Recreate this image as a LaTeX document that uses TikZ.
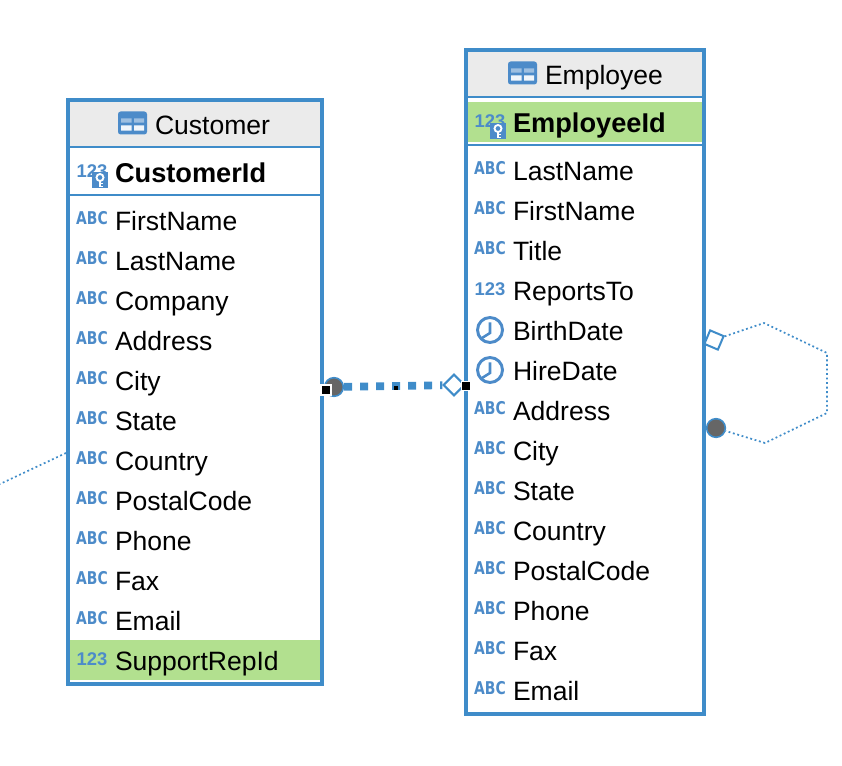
\documentclass[tikz,border=0pt]{standalone}
\usepackage{fontspec}
\setmainfont{Liberation Sans}
\newfontfamily\iconfont{DejaVu Sans}

\definecolor{tableblue}{HTML}{3F8CC9}
\definecolor{iconblue}{HTML}{4C8BC9}
\definecolor{keygreen}{HTML}{B2E08F}
\definecolor{headgray}{HTML}{EBEBEB}

\tikzset{every picture/.style={line width=0.75pt},
  tablebox/.style={draw=tableblue,line width=3pt,fill=white,inner sep=0pt},
  colname/.style={anchor=base west,inner sep=0pt,font=\fontsize{19.9}{24}\selectfont},
  keyname/.style={colname,font=\fontsize{20.4}{24}\selectfont\bfseries},
  typeabc/.style={inner sep=0pt,text=iconblue,xscale=0.79,font=\iconfont\fontsize{13.2}{14}\selectfont\bfseries},
  typenum/.style={inner sep=0pt,text=iconblue,font=\fontsize{13.8}{14}\selectfont\bfseries},
  relcircle/.style={circle,draw=tableblue,fill=black!60,line width=1.2pt,inner sep=0pt,minimum size=14pt},
  reldiamond/.style={rectangle,draw=tableblue,fill=white,line width=1.5pt,inner sep=0pt},
  handle/.style={rectangle,fill=black,draw=white,line width=1pt,inner sep=0pt,minimum size=7.5pt},
  thinrel/.style={draw=tableblue,line width=1.3pt,dash pattern=on 1.4pt off 2pt},
  thickrel/.style={draw=tableblue,line width=5.8pt,dash pattern=on 6pt off 6pt},
  % pics keep y pointing up, so these icons are written that way
  tableicon/.pic={
    \fill [iconblue,rounded corners=2pt] (-14.5,-11.5) rectangle (14.5,11.5);
    \fill [iconblue!55!white] (-11.5,4.7) rectangle (-1,0.3) (1.5,4.7) rectangle (11.5,0.3);
    \fill [white!92!iconblue] (-11.5,-2.3) rectangle (-1,-7.7) (1.5,-2.3) rectangle (11.5,-7.7);
  },
  keyicon/.pic={
    \fill [iconblue] (-8,-8) rectangle (8,8);
    \draw [white,line width=1.4pt] (0,2.5) circle (3.5);
    \draw [white,line width=1.4pt] (0,-1) -- (0,-7) (0,-3.5) -- (3,-3.5) (0,-6.5) -- (3,-6.5);
  },
  clockicon/.pic={
    \draw [iconblue,line width=2.2pt] (0,0) circle (12.5);
    \draw [iconblue,line width=1.9pt] (0,7.5) -- (0,-3) -- (-8,-8);
  }
}

\begin{document}
\begin{tikzpicture}[x=0.75pt,y=0.75pt,yscale=-1,xscale=1]

\useasboundingbox (0,0) rectangle (842,766);

% Customer table
\node [tablebox,minimum width=190.5pt,minimum height=438pt] (customer) at (195,392) {};
\fill [headgray] (70,102) rectangle (320,146);
\draw [tableblue,line width=1.5pt] (70,147) -- (320,147);
\draw [tableblue,line width=1.5pt] (70,195) -- (320,195);
\fill [keygreen] (70,640) rectangle (320,680);
\pic at (132.5,123) {tableicon};
\node [colname] (custtitle) at (154.5,134.5) {Customer};
% Customer columns
\node [typenum] (custidtype) at (92,171) {123};
\pic at (100,180) {keyicon};
\node [keyname] (custid) at (114.5,182.5) {CustomerId};
\node [typeabc] (firsttype) at (92,218) {ABC};
\node [colname] (custfirst) at (114.5,230.5) {FirstName};
\node [typeabc] (lasttype) at (92,258) {ABC};
\node [colname] (custlast) at (114.5,270.5) {LastName};
\node [typeabc] (companytype) at (92,298) {ABC};
\node [colname] (custcompany) at (114.5,310.5) {Company};
\node [typeabc] (addresstype) at (92,338) {ABC};
\node [colname] (custaddress) at (114.5,350.5) {Address};
\node [typeabc] (citytype) at (92,378) {ABC};
\node [colname] (custcity) at (114.5,390.5) {City};
\node [typeabc] (statetype) at (92,418) {ABC};
\node [colname] (custstate) at (114.5,430.5) {State};
\node [typeabc] (countrytype) at (92,458) {ABC};
\node [colname] (custcountry) at (114.5,470.5) {Country};
\node [typeabc] (postaltype) at (92,498) {ABC};
\node [colname] (custpostal) at (114.5,510.5) {PostalCode};
\node [typeabc] (phonetype) at (92,538) {ABC};
\node [colname] (custphone) at (114.5,550.5) {Phone};
\node [typeabc] (faxtype) at (92,578) {ABC};
\node [colname] (custfax) at (114.5,590.5) {Fax};
\node [typeabc] (emailtype) at (92,618) {ABC};
\node [colname] (custemail) at (114.5,630.5) {Email};
\node [typenum] (reptype) at (92,659) {123};
\node [colname] (custrep) at (114.5,670.5) {SupportRepId};

% Employee table
\node [tablebox,minimum width=178.5pt,minimum height=498pt] (employee) at (585,382) {};
\fill [headgray] (468,52) rectangle (702,96);
\draw [tableblue,line width=1.5pt] (468,97) -- (702,97);
\fill [keygreen] (468,102) rectangle (702,142);
\draw [tableblue,line width=1.5pt] (468,145) -- (702,145);
\pic at (522.5,73) {tableicon};
\node [colname] (emptitle) at (544.5,84.5) {Employee};
% Employee columns
\node [typenum] (empidtype) at (490,121) {123};
\pic at (498,131) {keyicon};
\node [keyname] (empid) at (512.5,132.5) {EmployeeId};
\node [typeabc] (elasttype) at (490,168) {ABC};
\node [colname] (emplast) at (512.5,180.5) {LastName};
\node [typeabc] (efirsttype) at (490,208) {ABC};
\node [colname] (empfirst) at (512.5,220.5) {FirstName};
\node [typeabc] (etitletype) at (490,248) {ABC};
\node [colname] (emprole) at (512.5,260.5) {Title};
\node [typenum] (ereportstype) at (490,289) {123};
\node [colname] (empreports) at (512.5,300.5) {ReportsTo};
\pic at (490,330) {clockicon};
\node [colname] (empbirth) at (512.5,340.5) {BirthDate};
\pic at (490,370) {clockicon};
\node [colname] (emphire) at (512.5,380.5) {HireDate};
\node [typeabc] (eaddresstype) at (490,408) {ABC};
\node [colname] (empaddress) at (512.5,420.5) {Address};
\node [typeabc] (ecitytype) at (490,448) {ABC};
\node [colname] (empcity) at (512.5,460.5) {City};
\node [typeabc] (estatetype) at (490,488) {ABC};
\node [colname] (empstate) at (512.5,500.5) {State};
\node [typeabc] (ecountrytype) at (490,528) {ABC};
\node [colname] (empcountry) at (512.5,540.5) {Country};
\node [typeabc] (epostaltype) at (490,568) {ABC};
\node [colname] (emppostal) at (512.5,580.5) {PostalCode};
\node [typeabc] (ephonetype) at (490,608) {ABC};
\node [colname] (empphone) at (512.5,620.5) {Phone};
\node [typeabc] (efaxtype) at (490,648) {ABC};
\node [colname] (empfax) at (512.5,660.5) {Fax};
\node [typeabc] (eemailtype) at (490,688) {ABC};
\node [colname] (empemail) at (512.5,700.5) {Email};

% Relation ends
\node [relcircle] (repcircle) at (334,387) {};
\node [reldiamond,rotate=45,minimum size=11pt] (repdiamond) at (454,385) {};
\node [reldiamond,rotate=-23,minimum size=11pt] (selfdiamond) at (714,340) {};
\node [relcircle] (selfcircle) at (716,428) {};
\node [handle] (handleleft) at (326,390) {};
\node [handle,minimum size=7pt] (handleright) at (466,386) {};

% Connection
\draw [thickrel] (repcircle) -- (repdiamond);
\node [rectangle,fill=black,inner sep=0pt,minimum size=3pt] (handlemid) at (396,388) {};

% Connection
\coordinate (selfa) at (764,323);
\coordinate (selfb) at (827,353);
\coordinate (selfc) at (827,413);
\coordinate (selfd) at (765,443);
\draw [thinrel] (selfdiamond) -- (selfa) -- (selfb) -- (selfc) -- (selfd) -- (selfcircle);

% Connection
\coordinate (stubend) at (0,484);
\coordinate (stubstart) at (66,453);
\draw [thinrel] (stubstart) -- (stubend);

\end{tikzpicture}
\end{document}
